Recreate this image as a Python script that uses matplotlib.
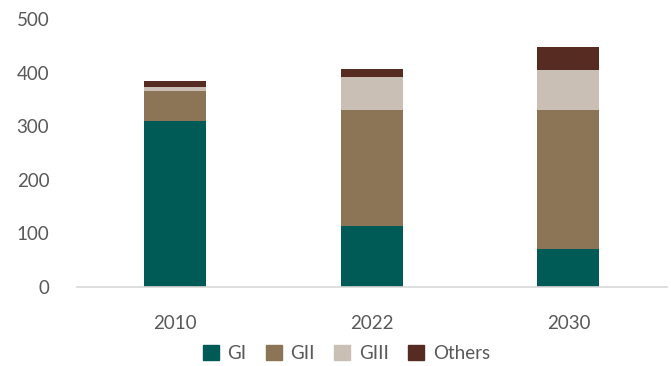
import numpy as np
import matplotlib
matplotlib.use("Agg")
import matplotlib.pyplot as plt
from matplotlib.patches import Patch

years = ["2010", "2022", "2030"]
gi = [310, 114, 71]
gii = [55, 216, 259]
giii = [8, 61, 74]
others = [11, 16, 44]

series = [("GI", gi, "#005a55"), ("GII", gii, "#8c7556"),
          ("GIII", giii, "#c9bfb4"), ("Others", others, "#552b22")]

plt.rcParams['font.family'] = ['Lato', 'DejaVu Sans']
text_color = "#595959"

fig = plt.figure(figsize=(6.71, 3.66), dpi=100)
ax = fig.add_axes([0.1148, 0.2158, 0.8788, 0.7322])

x = np.arange(len(years))
bottom = np.zeros(len(years))
for name, vals, col in series:
    ax.bar(x, vals, width=0.315, bottom=bottom, color=col, label=name)
    bottom += np.array(vals)

ax.set_xlim(-0.5, 2.5)
ax.set_ylim(0, 500)
ax.set_yticks(range(0, 501, 100))
ax.set_xticks(x)
ax.set_xticklabels(years)

for s in ["top", "right", "left"]:
    ax.spines[s].set_visible(False)
ax.spines["bottom"].set_color("#d9d9d9")
ax.spines["bottom"].set_linewidth(1.2)
ax.tick_params(axis="y", length=0, pad=20, labelsize=13.5, labelcolor=text_color)
ax.tick_params(axis="x", length=0, pad=20, labelsize=13.5, labelcolor=text_color)

handles = [Patch(color=c, label=n) for n, v, c in series]
fig.legend(handles=handles, loc="center", bbox_to_anchor=(0.516, 0.033), ncol=4,
           frameon=False, fontsize=13.5, labelcolor=text_color,
           handlelength=0.85, handleheight=0.85, handletextpad=0.45, columnspacing=1.05)

fig.savefig("out.png", dpi=100)
